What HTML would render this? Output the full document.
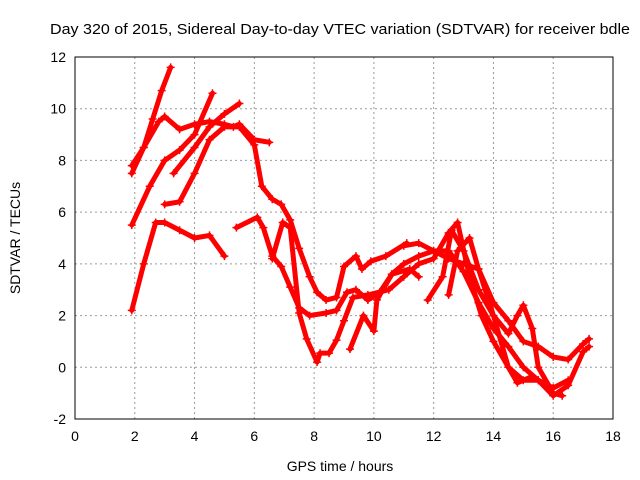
<!DOCTYPE html>
<html><head><meta charset="utf-8"><style>
body{margin:0;background:#fff}
svg{display:block;font-family:"Liberation Sans",sans-serif}
</style></head><body>
<svg id="chart" width="640" height="480" viewBox="0 0 640 480">
<rect width="640" height="480" fill="#fff"/>
<text x="340" y="34" font-size="15" text-anchor="middle" textLength="580" lengthAdjust="spacingAndGlyphs">Day 320 of 2015, Sidereal Day-to-day VTEC variation (SDTVAR) for receiver bdle</text>
<g id="grid"></g>
<g id="axes"></g>
<g id="series"></g>
<rect x="75" y="57" width="538" height="362" fill="none" stroke="#000" stroke-width="1"/>
<text x="340" y="471" font-size="14" text-anchor="middle">GPS time / hours</text>
<text x="20" y="238" font-size="14" text-anchor="middle" transform="rotate(-90 20 238)">SDTVAR / TECUs</text>
</svg>
<script>
const xTicks=[0,2,4,6,8,10,12,14,16,18];
const yTicks=[-2,0,2,4,6,8,10,12];
const sA=[[1.9,7.5],[2.3,8.5],[2.6,9.6],[2.9,10.7],[3.2,11.6]];
const sB=[[1.9,7.8],[2.3,8.5],[2.8,9.5],[3.0,9.7],[3.5,9.2],[4,9.4],[4.5,9.5],[5,9.4],[5.3,9.3],[5.5,9.4],[6,8.8],[6.5,8.7]];
const sC=[[1.9,5.5],[2.5,7.0],[3,8.0],[3.5,8.4],[4,9.0],[4.6,10.6]];
const sD=[[1.9,2.2],[2.3,4],[2.7,5.6],[3,5.6],[3.5,5.3],[4,5.0],[4.5,5.1],[5,4.3]];
const sE=[[3,6.3],[3.5,6.4],[4,7.5],[4.5,8.8],[5,9.3],[5.5,9.3],[6,8.6],[6.25,7.0],[6.6,6.5],[6.9,6.3],[7.2,5.7],[7.5,4.6],[7.85,3.5],[8.1,2.9],[8.4,2.6],[8.75,2.7],[9,3.9],[9.4,4.3],[9.6,3.8],[9.9,4.1],[10.4,4.3],[11.1,4.8]];
const sE2=[[3.3,7.5],[4,8.5],[4.5,9.3],[5,9.8],[5.5,10.2]];
const sF=[[5.4,5.4],[6.1,5.8],[6.3,5.4],[6.6,4.3],[6.9,3.9],[7.2,3.1],[7.5,2.3],[7.85,2.0],[8.4,2.1],[8.75,2.2],[9.1,2.9],[9.4,3.0],[9.8,2.6],[10.2,2.9],[10.6,3.6],[11,4],[11.5,4.3],[12,4.5],[12.5,4.5],[13,3.7],[13.5,2.5],[14,1.5],[14.5,0.8],[15,0],[15.5,-0.5],[16,-1.1],[16.5,-0.7],[17,0.6],[17.2,0.8]];
const sG=[[6.6,4.2],[6.95,5.6],[7.2,5.4],[7.5,2.1],[7.75,1.1],[8.1,0.2],[8.2,0.55],[8.5,0.55],[8.75,1.05],[9,1.8],[9.3,2.7],[9.8,2.8],[10.5,3.0],[11,3.5],[11.5,4.0],[12,4.2],[12.5,5.2],[12.8,5.6],[13.2,3.5],[13.6,2],[14,1],[14.5,0],[15,-0.5],[15.5,-0.5],[16,-0.8],[16.5,-0.5]];
const sH=[[11,4.7],[11.5,4.8],[12,4.5],[12.5,4.2],[13,4],[13.5,3.8],[14,2.5],[14.5,1.8],[15,1],[15.5,0.8],[16,0.4],[16.5,0.3],[17,0.9],[17.2,1.1]];
const sJ=[[9.2,0.7],[9.65,2.0],[10,1.4],[10.1,2.6],[10.6,3.6],[11.2,3.8],[11.5,3.5]];
const sK=[[11.8,2.6],[12.3,3.5],[12.6,5.3],[13,4.5],[13.5,3],[14,2],[14.5,1.3],[14.8,2],[15,2.4],[15.3,1.5],[15.5,0],[16,-1],[16.3,-1.1]];
const sL=[[12.5,2.8],[12.8,4.5],[13.2,5.0],[13.5,3.8],[14,2],[14.5,0],[14.8,-0.6],[15.2,-0.4]];
const allSeries=[sA,sB,sC,sD,sE,sE2,sF,sG,sH,sJ,sK,sL];
const X=v=>75+(v-0)/18*538, Y=v=>419-(v+2)/14*362;
const NS='http://www.w3.org/2000/svg';
function mk(t,p,a){const e=document.createElementNS(NS,t);for(const k in a)e.setAttribute(k,a[k]);p.appendChild(e);return e;}
const grid=document.getElementById('grid'),axes=document.getElementById('axes'),ser=document.getElementById('series');
xTicks.forEach(v=>{
 const g=mk('line',grid,{x1:X(v),x2:X(v),y1:57,y2:419,stroke:'#999','stroke-dasharray':'2,3'});
 
 
 const t=mk('text',axes,{x:X(v),y:441,'font-size':14,'text-anchor':'middle'});t.textContent=v;
 
 
});
yTicks.forEach(v=>{
 const g=mk('line',grid,{x1:75,x2:613,y1:Y(v),y2:Y(v),stroke:'#999','stroke-dasharray':'2,3'});
 
 
 const t=mk('text',axes,{x:66,y:Y(v)+5,'font-size':14,'text-anchor':'end'});t.textContent=v;
 
 
});
allSeries.forEach((s,i)=>{
 const pl=mk('polyline',ser,{points:s.map(p=>X(p[0])+','+Y(p[1])).join(' '),fill:'none',stroke:'#f00','stroke-width':5,'stroke-linejoin':'round','stroke-linecap':'round'});
 
 
 s.forEach(p=>{
  const m=mk('path',ser,{d:`M${X(p[0])-4},${Y(p[1])}h8M${X(p[0])},${Y(p[1])-4}v8`,stroke:'#f00','stroke-width':1.5});
  
  
 });
});
</script>
</body></html>
